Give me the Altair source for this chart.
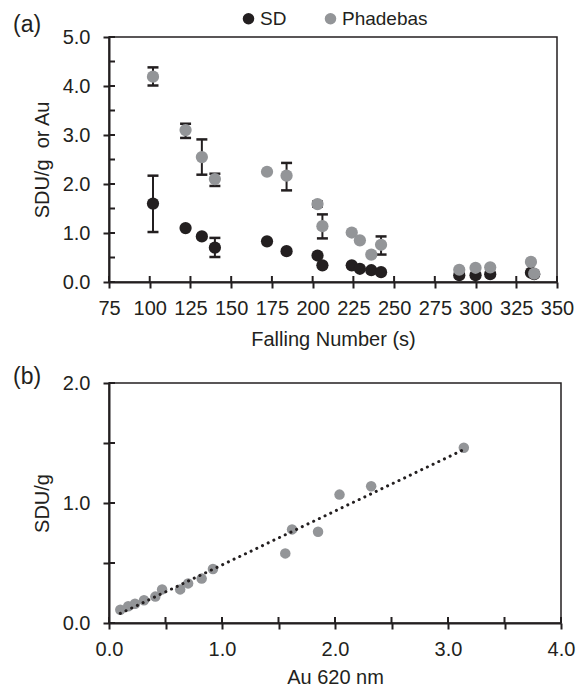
import altair as alt
import pandas as pd

# ---------- panel (a) data ----------
falling_number = [102, 122, 132, 140, 172, 184, 203, 206, 224, 229, 236, 242, 290, 300, 309, 334, 336]
sd_values = [1.60, 1.10, 0.93, 0.70, 0.83, 0.63, 0.54, 0.34, 0.34, 0.27, 0.24, 0.20, 0.14, 0.14, 0.16, 0.19, 0.16]
phadebas_values = [4.19, 3.10, 2.55, 2.10, 2.25, 2.17, 1.59, 1.14, 1.01, 0.85, 0.56, 0.76, 0.25, 0.29, 0.30, 0.41, 0.17]

# error bars (only those visible)
err_fn = [102, 122, 132, 140, 184, 203, 206, 242, 102, 140]
err_lo = [4.01, 2.94, 2.19, 1.96, 1.87, 1.54, 0.89, 0.56, 1.02, 0.51]
err_hi = [4.38, 3.23, 2.91, 2.21, 2.43, 1.64, 1.38, 0.93, 2.17, 0.90]

# ---------- panel (b) data ----------
au_620 = [0.10, 0.17, 0.23, 0.31, 0.41, 0.47, 0.63, 0.70, 0.82, 0.92, 1.56, 1.62, 1.85, 2.04, 2.32, 3.14]
sdu_g = [0.11, 0.14, 0.16, 0.19, 0.22, 0.28, 0.28, 0.33, 0.37, 0.45, 0.58, 0.78, 0.76, 1.07, 1.14, 1.46]

# axis tick values
a_x_ticks = [75, 100, 125, 150, 175, 200, 225, 250, 275, 300, 325, 350]
a_y_ticks = [0, 0.5, 1.0, 1.5, 2.0, 2.5, 3.0, 3.5, 4.0, 4.5, 5.0]
b_x_ticks = [0, 0.5, 1.0, 1.5, 2.0, 2.5, 3.0, 3.5, 4.0]
b_y_ticks = [0, 0.5, 1.0, 1.5, 2.0]

FONT = "Liberation Sans"
INK = "#231f20"
GRAY = "#939598"

WA, HA = 448, 245
WB, HB = 452, 240

label_expr = "datum.value % 1 == 0 ? format(datum.value, '.1f') : ''"

# ---------- panel (a) ----------
pts_a = pd.DataFrame({
    "fn": falling_number * 2,
    "val": sd_values + phadebas_values,
    "series": ["SD"] * len(sd_values) + ["Phadebas"] * len(phadebas_values),
})
err_df = pd.DataFrame({"fn": err_fn, "lo": err_lo, "hi": err_hi})

xa = alt.X("fn:Q", scale=alt.Scale(domain=[75, 350], nice=False, zero=False),
           axis=alt.Axis(title="Falling Number (s)", values=a_x_ticks, labelFlush=False,
                         labelPadding=10, titlePadding=11))
ya = alt.Y("val:Q", scale=alt.Scale(domain=[0, 5], nice=False),
           axis=alt.Axis(title="SDU/g\u00a0 or Au", values=a_y_ticks, labelExpr=label_expr,
                         labelPadding=13, titlePadding=10))

err_v = alt.Chart(err_df).mark_rule(color=INK, strokeWidth=2).encode(
    x=alt.X("fn:Q"), y=alt.Y("lo:Q"), y2="hi:Q")
err_top = alt.Chart(err_df).mark_rule(color=INK, strokeWidth=2.5, xOffset=-5.5, x2Offset=5.5).encode(
    x=alt.X("fn:Q"), x2="fn:Q", y=alt.Y("hi:Q"))
err_bot = alt.Chart(err_df).mark_rule(color=INK, strokeWidth=2.5, xOffset=-5.5, x2Offset=5.5).encode(
    x=alt.X("fn:Q"), x2="fn:Q", y=alt.Y("lo:Q"))

points_a = alt.Chart(pts_a).mark_circle(size=150, opacity=1).encode(
    x=xa, y=ya,
    color=alt.Color("series:N",
                    scale=alt.Scale(domain=["SD", "Phadebas"], range=[INK, GRAY]),
                    sort=["SD", "Phadebas"],
                    legend=alt.Legend(orient="none", legendX=130, legendY=-28, direction="horizontal",
                                      title=None, symbolType="circle", symbolSize=133,
                                      symbolStrokeWidth=0, labelFontSize=19, labelFont=FONT,
                                      labelColor=INK, labelOffset=2, columnPadding=34, padding=0)),
)

in_ticks_ay = alt.Chart(pd.DataFrame({"v": a_y_ticks})).mark_rule(color=INK, strokeWidth=2).encode(
    y=alt.Y("v:Q"), x=alt.value(0), x2=alt.value(6))
in_ticks_ax = alt.Chart(pd.DataFrame({"v": a_x_ticks})).mark_rule(color=INK, strokeWidth=2).encode(
    x=alt.X("v:Q"), y=alt.value(HA - 6), y2=alt.value(HA))

tag_a = alt.Chart(pd.DataFrame({"t": ["(a)"]})).mark_text(
    align="left", baseline="alphabetic", fontSize=23, font=FONT, color=INK).encode(
    text="t:N", x=alt.value(-96), y=alt.value(-5))

panel_a = alt.layer(in_ticks_ay, in_ticks_ax, err_v, err_top, err_bot, points_a, tag_a).properties(
    width=WA, height=HA)

# ---------- panel (b) ----------
pts_b = pd.DataFrame({"au": au_620, "sdu": sdu_g})
xb = alt.X("au:Q", scale=alt.Scale(domain=[0, 4], nice=False),
           axis=alt.Axis(title="Au 620 nm", values=b_x_ticks, labelExpr=label_expr, labelFlush=False,
                         labelPadding=10, titlePadding=8))
yb = alt.Y("sdu:Q", scale=alt.Scale(domain=[0, 2], nice=False),
           axis=alt.Axis(title="SDU/g", values=b_y_ticks, labelExpr=label_expr,
                         labelPadding=13, titlePadding=10))

points_b = alt.Chart(pts_b).mark_circle(size=110, opacity=1, color=GRAY).encode(x=xb, y=yb)
trend_b = alt.Chart(pts_b).transform_regression("au", "sdu").mark_line(
    color=INK, strokeWidth=3, strokeDash=[0.1, 6.2], strokeCap="round").encode(
    x=alt.X("au:Q"), y=alt.Y("sdu:Q"))

in_ticks_by = alt.Chart(pd.DataFrame({"v": b_y_ticks})).mark_rule(color=INK, strokeWidth=2).encode(
    y=alt.Y("v:Q"), x=alt.value(0), x2=alt.value(6))
in_ticks_bx = alt.Chart(pd.DataFrame({"v": b_x_ticks})).mark_rule(color=INK, strokeWidth=2).encode(
    x=alt.X("v:Q"), y=alt.value(HB - 6), y2=alt.value(HB))

tag_b = alt.Chart(pd.DataFrame({"t": ["(b)"]})).mark_text(
    align="left", baseline="alphabetic", fontSize=23, font=FONT, color=INK).encode(
    text="t:N", x=alt.value(-96), y=alt.value(1))

panel_b = alt.layer(in_ticks_by, in_ticks_bx, points_b, trend_b, tag_b).properties(width=WB, height=HB)

chart = alt.vconcat(panel_a, panel_b, spacing=15).properties(
    padding={"left": 12, "top": 9, "right": 0, "bottom": 0},
    background="white",
).configure_view(
    stroke=INK, strokeWidth=1.5
).configure_axis(
    grid=False, domainColor=INK, domainWidth=2, tickColor=INK, tickWidth=2, tickSize=6,
    labelFont=FONT, labelFontSize=20, labelColor=INK,
    titleFont=FONT, titleFontSize=20, titleFontWeight="normal", titleColor=INK,
)

chart.save("out.html", embed_options={"renderer": "svg", "actions": False})
